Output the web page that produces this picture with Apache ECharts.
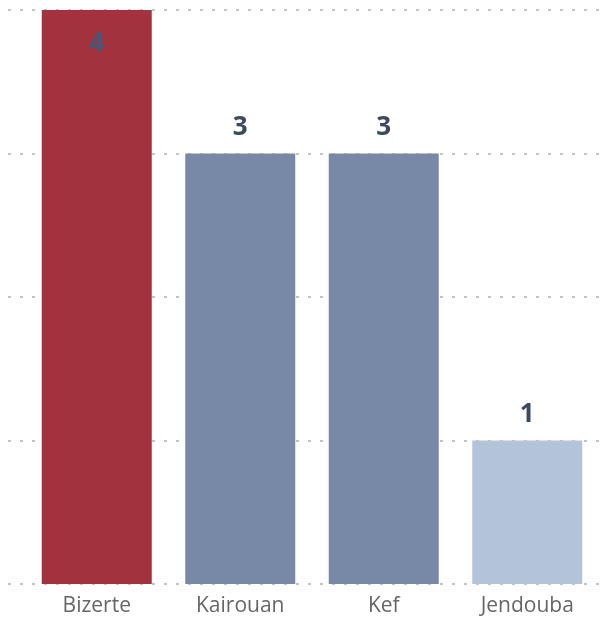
<!DOCTYPE html>
<html><head><meta charset="utf-8">
<script src="https://cdn.jsdelivr.net/npm/echarts@6/dist/echarts.min.js"></script>
<style>html,body{margin:0;padding:0;background:#fff}#c{width:605px;height:623px}</style>
</head><body><div id="c"></div>
<script>
const categories = ["Bizerte", "Kairouan", "Kef", "Jendouba"];
const values = [4, 3, 3, 1];
const barColors = ["#a2333e", "#7889a8", "#7889a8", "#b3c3da"];
const yTicks = [0, 1, 2, 3, 4];

const chart = echarts.init(document.getElementById('c'));
const font = '"Open Sans", "Noto Sans", sans-serif';
chart.setOption({
  animation: false,
  grid: [
    {left: 8, right: 0, top: 10, bottom: 39},
    {left: 25, right: 6, top: 10, bottom: 39}
  ],
  xAxis: [
    {gridIndex: 0, type: 'category', data: categories, show: false},
    {gridIndex: 1, type: 'category', data: categories,
     axisLine: {show: false}, axisTick: {show: false},
     axisLabel: {color: '#666', fontSize: 21, fontFamily: font, margin: 12}}
  ],
  yAxis: [
    {gridIndex: 0, type: 'value', min: yTicks[0], max: yTicks[yTicks.length-1], interval: 1,
     axisLabel: {show: false}, axisLine: {show: false}, axisTick: {show: false},
     splitLine: {show: true, lineStyle: {color: '#c4c4c4', width: 2, type: [3, 9]}}},
    {gridIndex: 1, type: 'value', min: yTicks[0], max: yTicks[yTicks.length-1], interval: 1,
     show: false, splitLine: {show: false}}
  ],
  series: [{
    type: 'bar', xAxisIndex: 1, yAxisIndex: 1,
    barWidth: 110,
    data: values.map((v, i) => ({
      value: v,
      itemStyle: {color: barColors[i]},
      label: v === yTicks[yTicks.length-1] ? {position: 'insideTop', distance: 21, color: '#44587a'} : {position: 'top', distance: 13}
    })),
    label: {show: true, color: '#3b4a63', fontSize: 26, fontWeight: 'bold', fontFamily: font}
  }]
});
</script></body></html>
